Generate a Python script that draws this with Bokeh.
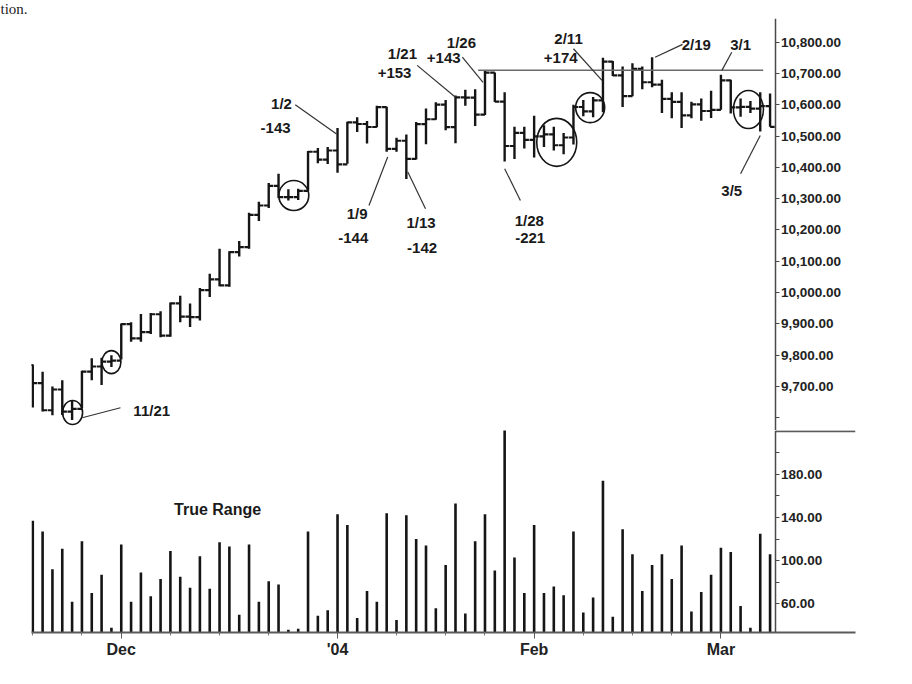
from bokeh.plotting import figure
from bokeh.layouts import column
from bokeh.models import Range1d, FixedTicker, NumeralTickFormatter
from bokeh.core.properties import value
from bokeh.embed import file_html
from bokeh.resources import INLINE

# ---------------- data ----------------
dates = [
    "2003-11-17", "2003-11-18", "2003-11-19", "2003-11-20", "2003-11-21",
    "2003-11-24", "2003-11-25", "2003-11-26", "2003-11-28",
    "2003-12-01", "2003-12-02", "2003-12-03", "2003-12-04", "2003-12-05",
    "2003-12-08", "2003-12-09", "2003-12-10", "2003-12-11", "2003-12-12",
    "2003-12-15", "2003-12-16", "2003-12-17", "2003-12-18", "2003-12-19",
    "2003-12-22", "2003-12-23", "2003-12-24", "2003-12-26",
    "2003-12-29", "2003-12-30", "2003-12-31",
    "2004-01-02", "2004-01-05", "2004-01-06", "2004-01-07", "2004-01-08",
    "2004-01-09", "2004-01-12", "2004-01-13", "2004-01-14", "2004-01-15",
    "2004-01-16", "2004-01-20", "2004-01-21", "2004-01-22", "2004-01-23",
    "2004-01-26", "2004-01-27", "2004-01-28", "2004-01-29", "2004-01-30",
    "2004-02-02", "2004-02-03", "2004-02-04", "2004-02-05", "2004-02-06",
    "2004-02-09", "2004-02-10", "2004-02-11", "2004-02-12", "2004-02-13",
    "2004-02-17", "2004-02-18", "2004-02-19", "2004-02-20",
    "2004-02-23", "2004-02-24", "2004-02-25", "2004-02-26", "2004-02-27",
    "2004-03-01", "2004-03-02", "2004-03-03", "2004-03-04", "2004-03-05",
    "2004-03-08",
]

opens = [
    9768.68, 9710.83, 9624.16, 9690.46, 9619.42, 9628.53, 9747.79, 9763.94, 9779.57,
    9782.46, 9899.05, 9853.64, 9873.42, 9930.82, 9862.68, 9965.27, 9923.42, 9921.86,
    10008.16, 10042.16, 10022.82, 10129.56, 10145.26, 10248.08, 10278.22, 10341.26,
    10305.19, 10305.19, 10324.67, 10450.00, 10425.04, 10453.92, 10409.85, 10544.07,
    10538.66, 10529.03, 10592.44, 10458.89, 10485.18, 10427.18, 10538.37, 10553.85,
    10600.51, 10528.66, 10623.62, 10623.18, 10568.29, 10702.51, 10609.92, 10468.37,
    10510.29, 10488.07, 10499.18, 10505.18, 10470.74, 10495.55, 10593.03, 10579.03,
    10613.85, 10737.70, 10694.07, 10627.85, 10714.88, 10671.99, 10664.73, 10619.03,
    10609.62, 10566.37, 10601.62, 10580.14, 10583.92, 10678.14, 10591.48, 10593.11,
    10588.00, 10595.55,
]
highs = [
    9770, 9747, 9700, 9720, 9655, 9750, 9790, 9792, 9800,
    9901, 9905, 9932, 9935, 9940, 9968, 9990, 9965, 10015, 10060,
    10140, 10132, 10165, 10255, 10290, 10350, 10380, 10330, 10332,
    10452, 10462, 10465,
    10526, 10546, 10560, 10548, 10597, 10594, 10495, 10505, 10545, 10588,
    10608, 10615, 10630, 10648, 10650, 10710, 10703, 10640, 10530, 10530,
    10565, 10535, 10530, 10510, 10600, 10615, 10625, 10750, 10740, 10722,
    10733, 10722, 10752, 10680, 10640, 10640, 10610, 10620, 10645,
    10696, 10680, 10620, 10612, 10640, 10636,
]
lows = [
    9633, 9620, 9608, 9609, 9593, 9631, 9720, 9705, 9762,
    9786, 9843, 9843, 9868, 9857, 9859, 9905, 9890, 9911, 9986,
    10020, 10019, 10115, 10140, 10229, 10270, 10302, 10294, 10296,
    10325, 10413, 10411,
    10383, 10412, 10513, 10476, 10528, 10450, 10450, 10363, 10425, 10474,
    10552, 10519, 10477, 10597, 10532, 10567, 10609, 10419, 10427, 10460,
    10432, 10465, 10454, 10442, 10473, 10563, 10560, 10576, 10692, 10593,
    10627, 10650, 10656, 10574, 10557, 10526, 10557, 10549, 10558,
    10584, 10572, 10562, 10574, 10515, 10530,
]
closes = [
    9710.83, 9624.16, 9690.46, 9619.42, 9628.53, 9747.79, 9763.94, 9779.57, 9782.46,
    9899.05, 9853.64, 9873.42, 9930.82, 9862.68, 9965.27, 9923.42, 9921.86, 10008.16,
    10042.16, 10022.82, 10129.56, 10145.26, 10248.08, 10278.22, 10341.26, 10305.19,
    10305.19, 10324.67, 10450.00, 10425.04, 10453.92, 10409.85, 10544.07, 10538.66,
    10529.03, 10592.44, 10458.89, 10485.18, 10427.18, 10538.37, 10553.85, 10600.51,
    10528.66, 10623.62, 10623.18, 10568.29, 10702.51, 10609.92, 10468.37, 10510.29,
    10488.07, 10499.18, 10505.18, 10470.74, 10495.55, 10593.03, 10579.03, 10613.85,
    10737.70, 10694.07, 10627.85, 10714.88, 10671.99, 10664.73, 10619.03, 10609.62,
    10566.37, 10601.62, 10580.14, 10583.92, 10678.14, 10591.48, 10593.11, 10588.00,
    10595.55, 10529.48,
]
true_range = [
    137, 127, 92, 111, 62, 118, 70, 87, 38, 115,
    62, 89, 67, 83, 109, 85, 75, 104, 74, 117,
    113, 50, 115, 62, 81, 78, 36, 37, 127, 49,
    54, 143, 133, 47, 72, 62, 144, 45, 142, 120,
    114, 56, 96, 153, 51, 118, 143, 91, 221, 103,
    70, 133, 70, 76, 68, 127, 52, 66, 174, 48,
    129, 106, 72, 96, 106, 83, 114, 53, 71, 87,
    112, 108, 58, 38, 125, 106,
]

month_start_dates = ["2003-12-01", "2004-01-02", "2004-02-02", "2004-03-01"]
month_labels = ["Dec", "'04", "Feb", "Mar"]
week_tick_dates = ["2003-11-17", "2003-11-24", "2003-12-08", "2003-12-15", "2003-12-22",
                   "2004-01-12", "2004-01-20", "2004-01-26", "2004-02-09", "2004-02-17",
                   "2004-02-23"]
price_ticks = [9600, 9700, 9800, 9900, 10000, 10100, 10200, 10300, 10400, 10500,
               10600, 10700, 10800]
tr_ticks = [60, 100, 140, 180]
tr_minor_ticks = [80, 120, 160, 200]

# resistance line at the 1/26 high
resistance_level = 10710
resistance_from, resistance_to = 45.3, 74.3

# annotation texts (x in bar index, y in price)
ann_text = ["11/21", "1/2", "-143", "1/9", "-144", "1/13", "-142", "1/21", "+153",
            "1/26", "+143", "1/28", "-221", "2/11", "+174", "2/19", "3/1", "3/5"]
ann_x = [12.1, 25.3, 24.7, 33.0, 32.6, 39.5, 39.6, 37.6, 36.8,
         43.6, 41.8, 50.5, 50.6, 54.5, 53.7, 67.5, 72.0, 71.1]
ann_y = [9622, 10604, 10527, 10253, 10176, 10224, 10141, 10764, 10703,
         10799, 10748, 10230, 10173, 10812, 10748, 10793, 10793, 10326]

# leader lines
lead_x0 = [5.02, 26.7, 34.2, 39.95, 39.1, 43.7, 49.6, 55.0, 66.1, 71.1, 72.0]
lead_y0 = [9600, 10600, 10278, 10268, 10726, 10752, 10294, 10779, 10793, 10768, 10380]
lead_x1 = [8.92, 30.9, 36.1, 38.15, 43.0, 45.8, 48.0, 57.9, 63.3, 70.1, 74.0]
lead_y1 = [9632, 10507, 10433, 10385, 10624, 10672, 10396, 10678, 10752, 10710, 10502]

# circled areas (x in bar index, y in price, size in px)
circ_x = [4.05, 8.0, 26.55, 53.3, 56.7, 72.8]
circ_y = [9617, 9778, 10310, 10480, 10591, 10585]
circ_w = [20, 19, 30, 40, 29, 30]
circ_h = [24, 23, 30, 48, 30, 38]

# ---------------- styling ----------------
INK = "#151515"
AXIS = "#4a4a4a"
FONT = "Liberation Sans"

x = list(range(len(dates)))
tick_half = 0.47
xr = Range1d(-0.13, 83.69)     # frame runs past the price axis, like the original
axis_at = 75.6                 # position of the right-hand value axes

p1 = figure(frame_width=824, frame_height=412, x_range=xr,
            y_range=Range1d(9559.4, 10875.7),
            toolbar_location=None, output_backend="svg",
            x_axis_location=None, y_axis_location="right",
            min_border_left=31, min_border_right=20,
            min_border_top=18, min_border_bottom=0)
p1.outline_line_color = None
p1.grid.visible = False
p1.background_fill_color = "white"

# tail of the book caption that sits above the chart
p1.title.text = "tion."
p1.title.align = "left"
p1.title.offset = -31
p1.title.standoff = 0
p1.title.vertical_align = "top"
p1.title.text_font = "Liberation Serif"
p1.title.text_font_style = "normal"
p1.title.text_font_size = "15px"
p1.title.text_color = "#222222"

ya = p1.yaxis[0]
ya.fixed_location = axis_at
ya.ticker = FixedTicker(ticks=price_ticks)
ya.formatter = NumeralTickFormatter(format="0,0.00")
ya.major_label_overrides = {9600: ""}
ya.axis_line_color = AXIS
ya.axis_line_width = 1.5
ya.major_tick_line_color = AXIS
ya.major_tick_in = 0
ya.major_tick_out = 4
ya.minor_tick_out = 0
ya.minor_tick_in = 0
ya.major_label_standoff = 1
ya.major_label_text_font = FONT
ya.major_label_text_font_style = "bold"
ya.major_label_text_font_size = "13.5px"
ya.major_label_text_color = "#222222"

# OHLC bars
p1.segment(x0=x, y0=lows, x1=x, y1=highs, line_width=2.4, line_color=INK)
p1.segment(x0=[i - tick_half for i in x], y0=opens, x1=x, y1=opens,
           line_width=2.2, line_color=INK)
p1.segment(x0=x, y0=closes, x1=[i + tick_half for i in x], y1=closes,
           line_width=2.2, line_color=INK)

# resistance line
p1.segment(x0=[resistance_from], y0=[resistance_level], x1=[resistance_to],
           y1=[resistance_level], line_width=1.5, line_color="#6a6a6a")

# circles
p1.ellipse(x=circ_x, y=circ_y, width=circ_w, height=circ_h,
           width_units="screen", height_units="screen",
           fill_color=None, line_color=INK, line_width=1.6)

# leader lines
p1.segment(x0=lead_x0, y0=lead_y0, x1=lead_x1, y1=lead_y1,
           line_width=1.2, line_color="#333333")

p1.text(x=ann_x, y=ann_y, text=ann_text, text_align="center",
        text_baseline="middle", text_font=value(FONT), text_font_style="bold",
        text_font_size="15px", text_color="#1a1a1a")

# ---------------- True Range panel ----------------
tr_lo, tr_hi = 33.5, 220.5
p2 = figure(frame_width=824, frame_height=202, x_range=xr,
            y_range=Range1d(tr_lo, tr_hi),
            toolbar_location=None, output_backend="svg",
            y_axis_location="right",
            min_border_left=31, min_border_right=20,
            min_border_top=0, min_border_bottom=40)
p2.outline_line_color = None
p2.grid.visible = False

p2.segment(x0=x, y0=[tr_lo] * len(x), x1=x, y1=true_range,
           line_width=2.6, line_color=INK)

# separator between the panels, right of the value axis
p2.segment(x0=[axis_at], y0=[tr_hi - 0.8], x1=[xr.end], y1=[tr_hi - 0.8],
           line_width=2, line_color="#5a5a5a")

p2.text(x=[18.8], y=[147], text=["True Range"], text_align="center",
        text_baseline="middle", text_font=value(FONT), text_font_style="bold",
        text_font_size="16px", text_color="#1a1a1a")

ta = p2.yaxis[0]
ta.fixed_location = axis_at
ta.ticker = FixedTicker(ticks=tr_ticks, minor_ticks=tr_minor_ticks)
ta.formatter = NumeralTickFormatter(format="0.00")
ta.axis_line_color = AXIS
ta.axis_line_width = 1.5
ta.major_tick_line_color = AXIS
ta.minor_tick_line_color = AXIS
ta.major_tick_in = 0
ta.major_tick_out = 4
ta.minor_tick_in = 0
ta.minor_tick_out = 4
ta.major_label_standoff = 1
ta.major_label_text_font = FONT
ta.major_label_text_font_style = "bold"
ta.major_label_text_font_size = "13.5px"
ta.major_label_text_color = "#222222"

major_idx = [dates.index(d) for d in month_start_dates]
minor_idx = [dates.index(d) for d in week_tick_dates]
xa = p2.xaxis[0]
xa.ticker = FixedTicker(ticks=major_idx, minor_ticks=minor_idx)
xa.major_label_overrides = {i: lab for i, lab in zip(major_idx, month_labels)}
xa.axis_line_color = "#5a5a5a"
xa.axis_line_width = 2
xa.major_tick_line_color = "#5a5a5a"
xa.minor_tick_line_color = "#777777"
xa.major_tick_in = 0
xa.major_tick_out = 6
xa.minor_tick_in = 0
xa.minor_tick_out = 3
xa.major_label_standoff = 2
xa.major_label_text_font = FONT
xa.major_label_text_font_style = "bold"
xa.major_label_text_font_size = "16px"
xa.major_label_text_color = "#222222"

layout = column(p1, p2, spacing=0)
open("out.html", "w").write(file_html(layout, INLINE))
